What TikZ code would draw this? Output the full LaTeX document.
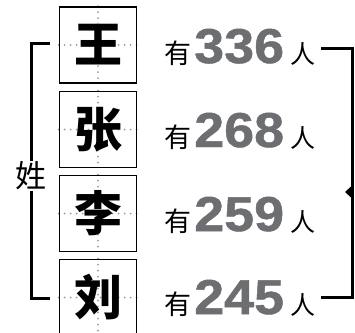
\documentclass[tikz,border=0pt]{standalone}
\usepackage{fontspec}
\newfontfamily\cjk{Noto Sans CJK SC}
\newfontfamily\numfont[FakeStretch=1.1,FakeBold=1]{Liberation Sans}
\usetikzlibrary{backgrounds}
\definecolor{numgray}{HTML}{6D6E71}
\definecolor{dotgray}{HTML}{9A9A9A}
\newcommand\rowtxt[1]{{\cjk\fontsize{27}{27}\selectfont 有}\hspace{3pt}{\numfont\bfseries\fontsize{49}{49}\selectfont\color{numgray}#1}\hspace{6pt}{\cjk\fontsize{25}{25}\selectfont 人}}
\begin{document}
\begin{tikzpicture}[x=1pt,y=-1pt,
  charbox/.style={draw, line width=1.6pt, minimum width=77pt, minimum height=76pt, inner sep=0pt,
    font=\cjk\bfseries\fontsize{48}{48}\selectfont},
  guide/.style={dotgray, line width=2pt, line cap=round, dash pattern=on 0pt off 6pt},
  bracket/.style={line width=3pt},
  rowtext/.style={anchor=base west, inner sep=0pt}]
\useasboundingbox (0,0) rectangle (355,332);
% boxes
\node[charbox] (b1) at (98,45) {王};
\node[charbox] (b2) at (98,129.5) {张};
\node[charbox] (b3) at (98,213.5) {李};
\node[charbox] (b4) at (98,297.5) {刘};
\begin{scope}[on background layer]
  \foreach \b in {b1,b2,b3,b4}{
    \draw[guide] (\b.north) -- (\b.south);
    \draw[guide] (\b.west) -- (\b.east);
  }
\end{scope}
% rows
\node[rowtext] (t1) at (164,63) {\rowtxt{336}};
\node[rowtext] (t2) at (164,147) {\rowtxt{268}};
\node[rowtext] (t3) at (164,231) {\rowtxt{259}};
\node[rowtext] (t4) at (164,314) {\rowtxt{245}};
% left bracket
\node[inner sep=1pt, font=\cjk\fontsize{31}{31}\selectfont] (xing) at (31,176) {姓};
\coordinate (lt) at (50,43);
\coordinate (lb) at (50,298);
\draw[bracket] (lt) -| (xing.north);
\draw[bracket] (lb) -| (xing.south);
% right bracket
\coordinate (rt) at (352,48);
\coordinate (rb) at (352,297);
\draw[bracket] ([xshift=6pt]t1.east |- rt) -- (rt) -- (rb) -- ([xshift=6pt]t4.east |- rb);
\fill (351,186.5) -- (345,192) -- (351,197.5) -- cycle;
\end{tikzpicture}
\end{document}
